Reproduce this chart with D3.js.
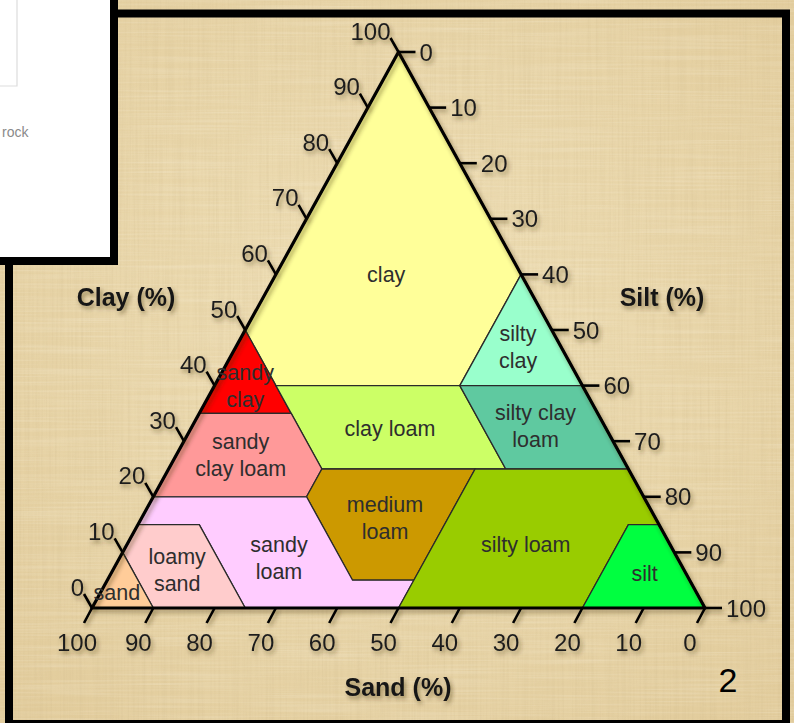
<!DOCTYPE html>
<html>
<head>
<meta charset="utf-8">
<title>Soil texture triangle</title>
<script src="https://d3js.org/d3.v7.min.js"></script>
<style>
  body { margin: 0; background: #e9d5a7; }
  svg { display: block; }
  text { font-family: "Liberation Sans", Arial, sans-serif; }
</style>
</head>
<body>
<svg id="chart" width="794" height="723"></svg>
<script>
/* axis ticks (percent) */
var clayTicks = [0, 10, 20, 30, 40, 50, 60, 70, 80, 90, 100];
var siltTicks = [0, 10, 20, 30, 40, 50, 60, 70, 80, 90, 100];
var sandTicks = [100, 90, 80, 70, 60, 50, 40, 30, 20, 10, 0];

/* texture classes, corners given as [clay %, silt %] */
var classNames = ["clay", "silty clay", "sandy clay", "clay loam", "silty clay loam",
  "sandy clay loam", "medium loam", "sandy loam", "loamy sand", "sand", "silty loam", "silt"];
var classColors = ["#ffff99", "#99ffcc", "#ff0000", "#ccff66", "#5fc9a0",
  "#ff9999", "#cc9900", "#ffccff", "#ffcccc", "#ffcc99", "#99cc00", "#00ff40"];
var classCorners = [
  [[100, 0], [50, 0], [40, 10], [40, 40], [60, 40]],
  [[60, 40], [40, 40], [40, 60]],
  [[50, 0], [35, 15], [35, 0]],
  [[40, 10], [40, 40], [25, 55], [25, 25]],
  [[40, 40], [40, 60], [25, 75], [25, 55]],
  [[35, 0], [35, 15], [25, 25], [20, 25], [20, 0]],
  [[25, 25], [25, 50], [5, 50], [5, 40], [20, 25]],
  [[20, 0], [20, 25], [5, 40], [5, 50], [0, 50], [0, 25], [15, 10], [15, 0]],
  [[15, 0], [15, 10], [0, 25], [0, 10], [10, 0]],
  [[10, 0], [0, 10], [0, 0]],
  [[25, 50], [25, 75], [15, 85], [15, 80], [0, 80], [0, 50]],
  [[15, 80], [15, 85], [0, 100], [0, 80]]
];
/* where each name sits, [clay %, silt %] */
var classLabelAt = [[60, 18], [47, 46], [40, 5], [32.4, 32.4], [32.7, 56],
  [27.5, 10.5], [16.2, 39.7], [9, 26], [6.8, 10.5], [2.9, 2.6], [11.5, 65], [6.3, 87]];
var classLabelLines = [["clay"], ["silty", "clay"], ["sandy", "clay"], ["clay loam"],
  ["silty clay", "loam"], ["sandy", "clay loam"], ["medium", "loam"], ["sandy", "loam"],
  ["loamy", "sand"], ["sand"], ["silty loam"], ["silt"]];

var svg = d3.select("#chart");
var defs = svg.append("defs");

/* parchment texture */
var f1 = defs.append("filter").attr("id", "fibV").attr("x", 0).attr("y", 0).attr("width", 1).attr("height", 1);
f1.append("feTurbulence").attr("type", "fractalNoise").attr("baseFrequency", "0.5 0.008").attr("numOctaves", 2).attr("seed", 4);
f1.append("feColorMatrix").attr("type", "matrix")
  .attr("values", "0 0 0 0 0.6  0 0 0 0 0.47  0 0 0 0 0.25  0 0 0 -1.2 0.75");
var f2 = defs.append("filter").attr("id", "fibH").attr("x", 0).attr("y", 0).attr("width", 1).attr("height", 1);
f2.append("feTurbulence").attr("type", "fractalNoise").attr("baseFrequency", "0.008 0.5").attr("numOctaves", 2).attr("seed", 9);
f2.append("feColorMatrix").attr("type", "matrix")
  .attr("values", "0 0 0 0 1  0 0 0 0 0.96  0 0 0 0 0.85  0 0 0 -1.2 0.72");

var shadow = defs.append("filter").attr("id", "shadow").attr("x", "-20%").attr("y", "-20%").attr("width", "140%").attr("height", "160%");
shadow.append("feDropShadow").attr("dx", 2).attr("dy", 3).attr("stdDeviation", 2)
  .attr("flood-color", "#3a2a10").attr("flood-opacity", 0.45);

var glow = defs.append("radialGradient").attr("id", "glow").attr("cx", "50%").attr("cy", "45%").attr("r", "70%");
glow.append("stop").attr("offset", "0%").attr("stop-color", "#efdfb6");
glow.append("stop").attr("offset", "100%").attr("stop-color", "#e2cc9c");

svg.append("rect").attr("width", 794).attr("height", 723).attr("fill", "url(#glow)");
svg.append("rect").attr("width", 794).attr("height", 723).attr("filter", "url(#fibV)").attr("opacity", 0.35);
svg.append("rect").attr("width", 794).attr("height", 723).attr("filter", "url(#fibH)").attr("opacity", 0.35);

/* ternary layout: x from silt + clay/2, y from clay */
var x = d3.scaleLinear().domain([0, 100]).range([92, 705]);
var y = d3.scaleLinear().domain([0, 100]).range([608, 52]);
function pt(clay, silt) { return [x(silt + clay / 2), y(clay)]; }

var plot = svg.append("g");

plot.selectAll("path.cls")
  .data(classCorners)
  .enter().append("path")
  .attr("class", "cls")
  .attr("d", function (d) { return d3.line()(d.map(function (c) { return pt(c[0], c[1]); })) + "Z"; })
  .attr("fill", function (d, i) { return classColors[i]; })
  .attr("stroke", "#2a2a2a")
  .attr("stroke-width", 1.3);

/* outline */
var corners = [pt(100, 0), pt(0, 0), pt(0, 100)];
plot.append("path")
  .attr("d", d3.line()(corners) + "Z")
  .attr("fill", "none")
  .attr("stroke", "#000")
  .attr("stroke-width", 3.2)
  .attr("stroke-linejoin", "round")
  .attr("filter", "url(#shadow)");

/* class names */
plot.selectAll("text.name")
  .data(classNames)
  .enter().append("text")
  .attr("class", "name")
  .attr("text-anchor", "middle")
  .attr("font-size", 21.5)
  .attr("fill", "#2e2e2e")
  .each(function (d, i) {
    var p = pt(classLabelAt[i][0], classLabelAt[i][1]);
    var lines = classLabelLines[i];
    var t = d3.select(this);
    lines.forEach(function (l, k) {
      t.append("tspan")
        .attr("x", p[0])
        .attr("y", p[1] + (k - (lines.length - 1) / 2) * 27)
        .attr("dy", "0.36em")
        .text(l);
    });
  });

var axes = svg.append("g").attr("filter", "url(#shadow)");

/* clay ticks, left side */
var clayG = axes.selectAll("g.clay").data(clayTicks).enter().append("g").attr("class", "clay");
clayG.append("line")
  .attr("x1", function (d) { return pt(d, 0)[0]; })
  .attr("y1", function (d) { return pt(d, 0)[1]; })
  .attr("x2", function (d) { return pt(d, 0)[0] - 8; })
  .attr("y2", function (d) { return pt(d, 0)[1] - 14; })
  .attr("stroke", "#000").attr("stroke-width", 2.6);
clayG.append("text")
  .attr("x", function (d) { return pt(d, 0)[0] - 8; })
  .attr("y", function (d) { return pt(d, 0)[1] - 21; })
  .attr("dy", "0.36em")
  .attr("text-anchor", "end")
  .attr("font-size", 24)
  .attr("fill", "#1e1e1e")
  .text(function (d) { return d; });

/* silt ticks, right side */
var siltG = axes.selectAll("g.silt").data(siltTicks).enter().append("g").attr("class", "silt");
siltG.append("line")
  .attr("x1", function (d) { return pt(100 - d, d)[0]; })
  .attr("y1", function (d) { return pt(100 - d, d)[1]; })
  .attr("x2", function (d) { return pt(100 - d, d)[0] + 17; })
  .attr("y2", function (d) { return pt(100 - d, d)[1]; })
  .attr("stroke", "#000").attr("stroke-width", 2.6);
siltG.append("text")
  .attr("x", function (d) { return pt(100 - d, d)[0] + 21; })
  .attr("y", function (d) { return pt(100 - d, d)[1]; })
  .attr("dy", "0.36em")
  .attr("font-size", 24)
  .attr("fill", "#1e1e1e")
  .text(function (d) { return d; });

/* sand ticks, bottom */
var sandG = axes.selectAll("g.sand").data(sandTicks).enter().append("g").attr("class", "sand");
sandG.append("line")
  .attr("x1", function (d) { return pt(0, 100 - d)[0]; })
  .attr("y1", function (d) { return pt(0, 100 - d)[1]; })
  .attr("x2", function (d) { return pt(0, 100 - d)[0] - 8; })
  .attr("y2", function (d) { return pt(0, 100 - d)[1] + 15; })
  .attr("stroke", "#000").attr("stroke-width", 2.6);
sandG.append("text")
  .attr("x", function (d) { return pt(0, 100 - d)[0] - 15; })
  .attr("y", 642)
  .attr("dy", "0.36em")
  .attr("text-anchor", "middle")
  .attr("font-size", 24)
  .attr("fill", "#1e1e1e")
  .text(function (d) { return d; });

/* axis titles */
var titles = [["Clay (%)", 126, 306], ["Silt (%)", 662, 306], ["Sand (%)", 398, 696]];
axes.selectAll("text.title").data(titles).enter().append("text")
  .attr("class", "title")
  .attr("x", function (d) { return d[1]; })
  .attr("y", function (d) { return d[2]; })
  .attr("text-anchor", "middle")
  .attr("font-size", 25)
  .attr("font-weight", "bold")
  .attr("fill", "#161616")
  .text(function (d) { return d[0]; });

/* page number */
svg.append("text")
  .attr("x", 728).attr("y", 692)
  .attr("text-anchor", "middle")
  .attr("font-family", "'Open Sans', sans-serif")
  .attr("font-size", 34)
  .attr("fill", "#000")
  .text("2");

/* slide frame */
svg.append("rect")
  .attr("x", 9).attr("y", 13.5)
  .attr("width", 777).attr("height", 710.5)
  .attr("fill", "none")
  .attr("stroke", "#000")
  .attr("stroke-width", 8);

/* overlapping slide at top left */
var inset = svg.append("g");
inset.append("rect").attr("x", -10).attr("y", -10).attr("width", 128).attr("height", 275).attr("fill", "#000");
inset.append("rect").attr("x", -10).attr("y", -10).attr("width", 120).attr("height", 267).attr("fill", "#fff");
inset.append("path").attr("d", "M17,0V86H0").attr("fill", "none").attr("stroke", "#ddd").attr("stroke-width", 1.2);
inset.append("text").attr("x", 2).attr("y", 137)
  .attr("font-size", 14).attr("fill", "#8a8a8a").text("rock");
</script>
</body>
</html>
